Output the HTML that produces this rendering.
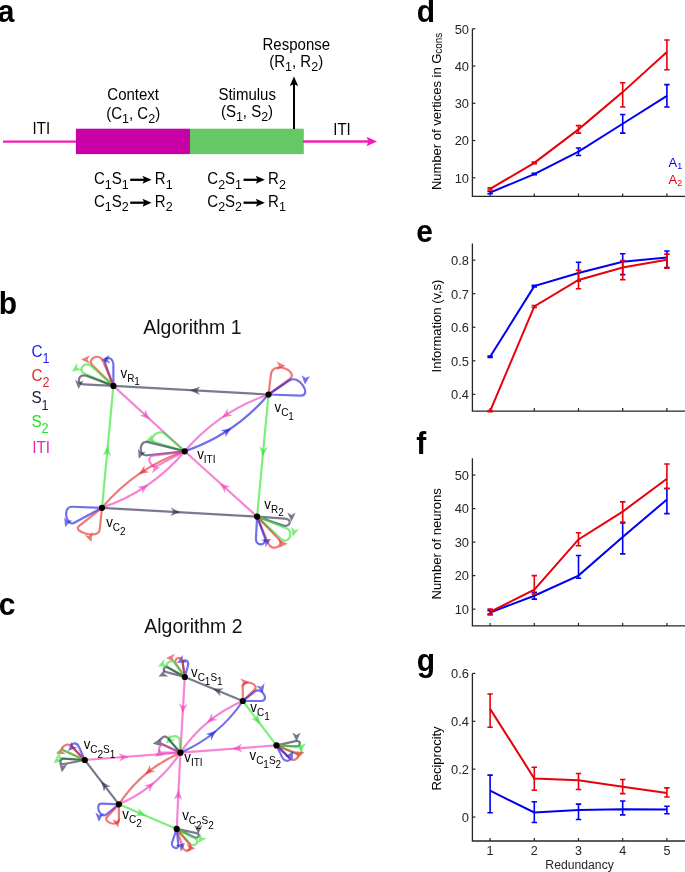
<!DOCTYPE html>
<html><head><meta charset="utf-8"><style>
html,body{margin:0;padding:0;background:#fff;}
body{width:685px;height:872px;overflow:hidden;}
svg{display:block;font-family:"Liberation Sans",sans-serif;filter:blur(0.35px);}
</style></head><body>
<svg width="685" height="872" viewBox="0 0 685 872">
<rect width="685" height="872" fill="#fff"/>
<text transform="translate(-2.2 21.7) scale(1 1.04)" font-size="30" text-anchor="start" fill="#000" font-weight="bold" >a</text>
<text transform="translate(-1.2 314.2) scale(1 1.04)" font-size="30" text-anchor="start" fill="#000" font-weight="bold" >b</text>
<text transform="translate(-1.2 615.3) scale(1 1.04)" font-size="30" text-anchor="start" fill="#000" font-weight="bold" >c</text>
<text transform="translate(416.7 21.9) scale(1 1.04)" font-size="30" text-anchor="start" fill="#000" font-weight="bold" >d</text>
<text transform="translate(416.3 241.6) scale(1 1.04)" font-size="30" text-anchor="start" fill="#000" font-weight="bold" >e</text>
<text transform="translate(416.3 454) scale(1 1.04)" font-size="30" text-anchor="start" fill="#000" font-weight="bold" >f</text>
<text transform="translate(416.7 671.4) scale(1 1.04)" font-size="30" text-anchor="start" fill="#000" font-weight="bold" >g</text>
<line x1="3" y1="141.6" x2="76.5" y2="141.6" stroke="#f41cb8" stroke-width="2.4"/>
<rect x="75.9" y="128.7" width="114.1" height="25.4" fill="#c900a5"/>
<rect x="190" y="128.7" width="113.8" height="25.4" fill="#64c864"/>
<line x1="303" y1="141.5" x2="369" y2="141.5" stroke="#f41cb8" stroke-width="2.4"/>
<path d="M377 141.5 L366.5 136.8 L368.5 141.5 L366.5 146.2 Z" fill="#f41cb8"/>
<line x1="294" y1="129" x2="294" y2="84" stroke="#000" stroke-width="2"/>
<path d="M294 76.4 L289.8 86 L294 84.2 L298.2 86 Z" fill="#000"/>
<text transform="translate(41.3 134) scale(1 1.04)" font-size="15" text-anchor="middle" fill="#000" font-weight="normal" >ITI</text>
<text transform="translate(342 134.5) scale(1 1.04)" font-size="15" text-anchor="middle" fill="#000" font-weight="normal" >ITI</text>
<text transform="translate(133.2 99.7) scale(1 1.04)" font-size="15" text-anchor="middle" fill="#000" font-weight="normal" >Context</text>
<text transform="translate(133.2 118.7) scale(1 1.04)" font-size="15" text-anchor="middle" fill="#000" font-weight="normal" >(C<tspan font-size="12.5" dy="4">1</tspan><tspan dy="-4">, C</tspan><tspan font-size="12.5" dy="4">2</tspan><tspan dy="-4">)</tspan></text>
<text transform="translate(247.2 100) scale(1 1.04)" font-size="15" text-anchor="middle" fill="#000" font-weight="normal" >Stimulus</text>
<text transform="translate(247 117.2) scale(1 1.04)" font-size="15" text-anchor="middle" fill="#000" font-weight="normal" >(S<tspan font-size="12.5" dy="4">1</tspan><tspan dy="-4">, S</tspan><tspan font-size="12.5" dy="4">2</tspan><tspan dy="-4">)</tspan></text>
<text transform="translate(296.3 49.7) scale(1 1.04)" font-size="15" text-anchor="middle" fill="#000" font-weight="normal" >Response</text>
<text transform="translate(296.2 66.5) scale(1 1.04)" font-size="15" text-anchor="middle" fill="#000" font-weight="normal" >(R<tspan font-size="12.5" dy="4">1</tspan><tspan dy="-4">, R</tspan><tspan font-size="12.5" dy="4">2</tspan><tspan dy="-4">)</tspan></text>
<text transform="translate(94 184.4) scale(1 1.04)" font-size="15" text-anchor="start" fill="#000" font-weight="normal" >C<tspan font-size="12.5" dy="4">1</tspan><tspan dy="-4">S</tspan><tspan font-size="12.5" dy="4">1</tspan></text>
<line x1="130.2" y1="179.8" x2="145.2" y2="179.8" stroke="#000" stroke-width="2.3"/>
<path d="M151.6 179.8 L142.4 175.8 L144.4 179.8 L142.4 183.8 Z" fill="#000"/>
<text transform="translate(154.8 184.4) scale(1 1.04)" font-size="15" text-anchor="start" fill="#000" font-weight="normal" >R<tspan font-size="12.5" dy="4">1</tspan></text>
<text transform="translate(94 207.3) scale(1 1.04)" font-size="15" text-anchor="start" fill="#000" font-weight="normal" >C<tspan font-size="12.5" dy="4">1</tspan><tspan dy="-4">S</tspan><tspan font-size="12.5" dy="4">2</tspan></text>
<line x1="130.2" y1="202.7" x2="145.2" y2="202.7" stroke="#000" stroke-width="2.3"/>
<path d="M151.6 202.7 L142.4 198.7 L144.4 202.7 L142.4 206.7 Z" fill="#000"/>
<text transform="translate(154.8 207.3) scale(1 1.04)" font-size="15" text-anchor="start" fill="#000" font-weight="normal" >R<tspan font-size="12.5" dy="4">2</tspan></text>
<text transform="translate(207.3 184.4) scale(1 1.04)" font-size="15" text-anchor="start" fill="#000" font-weight="normal" >C<tspan font-size="12.5" dy="4">2</tspan><tspan dy="-4">S</tspan><tspan font-size="12.5" dy="4">1</tspan></text>
<line x1="243.5" y1="179.8" x2="258.5" y2="179.8" stroke="#000" stroke-width="2.3"/>
<path d="M264.9 179.8 L255.7 175.8 L257.7 179.8 L255.7 183.8 Z" fill="#000"/>
<text transform="translate(268.1 184.4) scale(1 1.04)" font-size="15" text-anchor="start" fill="#000" font-weight="normal" >R<tspan font-size="12.5" dy="4">2</tspan></text>
<text transform="translate(207.3 207.3) scale(1 1.04)" font-size="15" text-anchor="start" fill="#000" font-weight="normal" >C<tspan font-size="12.5" dy="4">2</tspan><tspan dy="-4">S</tspan><tspan font-size="12.5" dy="4">2</tspan></text>
<line x1="243.5" y1="202.7" x2="258.5" y2="202.7" stroke="#000" stroke-width="2.3"/>
<path d="M264.9 202.7 L255.7 198.7 L257.7 202.7 L255.7 206.7 Z" fill="#000"/>
<text transform="translate(268.1 207.3) scale(1 1.04)" font-size="15" text-anchor="start" fill="#000" font-weight="normal" >R<tspan font-size="12.5" dy="4">1</tspan></text>
<text transform="translate(192.4 333.7) scale(1 1.04)" font-size="19.4" text-anchor="middle" fill="#111" font-weight="normal" >Algorithm 1</text>
<text transform="translate(31.4 357.2) scale(1 1.13)" font-size="15.3" text-anchor="start" fill="#2020e8" font-weight="normal" >C<tspan font-size="12.6" dy="5.5">1</tspan></text>
<text transform="translate(31.4 380.6) scale(1 1.13)" font-size="15.3" text-anchor="start" fill="#e02a2a" font-weight="normal" >C<tspan font-size="12.6" dy="5.5">2</tspan></text>
<text transform="translate(31.4 403.3) scale(1 1.13)" font-size="15.3" text-anchor="start" fill="#1c1c36" font-weight="normal" >S<tspan font-size="12.6" dy="5.5">1</tspan></text>
<text transform="translate(31.4 426.7) scale(1 1.13)" font-size="15.3" text-anchor="start" fill="#2ae02a" font-weight="normal" >S<tspan font-size="12.6" dy="5.5">2</tspan></text>
<text transform="translate(32.2 452.8) scale(1 1.13)" font-size="15.3" text-anchor="start" fill="#e02ab4" font-weight="normal" >ITI</text>
<path d="M268.5 394.5 Q190.95 390.2 113.4 385.9" fill="none" stroke="rgb(40,40,75)" stroke-opacity="0.62" stroke-width="2.2"/>
<path d="M189.95 390.14 L200.17 386.5 L197.14 390.54 L199.7 394.89 Z" fill="rgb(40,40,75)" fill-opacity="0.62"/>
<path d="M113.4 385.9 Q149.05 418.6 184.7 451.3" fill="none" stroke="rgb(238,60,188)" stroke-opacity="0.62" stroke-width="2.2"/>
<path d="M149.79 419.28 L139.58 415.61 L144.48 414.41 L145.26 409.42 Z" fill="rgb(238,60,188)" fill-opacity="0.62"/>
<path d="M257.1 516.6 Q220.9 483.95 184.7 451.3" fill="none" stroke="rgb(238,60,188)" stroke-opacity="0.62" stroke-width="2.2"/>
<path d="M220.16 483.28 L230.4 486.86 L225.5 488.1 L224.77 493.1 Z" fill="rgb(238,60,188)" fill-opacity="0.62"/>
<path d="M268.5 394.5 Q262.8 455.55 257.1 516.6" fill="none" stroke="rgb(45,228,45)" stroke-opacity="0.62" stroke-width="2.2"/>
<path d="M262.71 456.55 L259.45 446.2 L263.38 449.38 L267.82 446.98 Z" fill="rgb(45,228,45)" fill-opacity="0.62"/>
<path d="M102 507.8 Q107.7 446.85 113.4 385.9" fill="none" stroke="rgb(45,228,45)" stroke-opacity="0.62" stroke-width="2.2"/>
<path d="M107.79 445.85 L111.04 456.2 L107.12 453.02 L102.68 455.42 Z" fill="rgb(45,228,45)" fill-opacity="0.62"/>
<path d="M102 507.8 Q179.55 512.2 257.1 516.6" fill="none" stroke="rgb(40,40,75)" stroke-opacity="0.62" stroke-width="2.2"/>
<path d="M180.55 512.26 L170.33 515.88 L173.36 511.85 L170.8 507.5 Z" fill="rgb(40,40,75)" fill-opacity="0.62"/>
<path d="M268.5 394.5 Q218.75 411.31 184.7 451.3" fill="none" stroke="rgb(238,60,188)" stroke-opacity="0.62" stroke-width="2.2"/>
<path d="M221.84 417.67 L227.77 408.58 L227.8 413.63 L232.48 415.53 Z" fill="rgb(238,60,188)" fill-opacity="0.62"/>
<path d="M184.7 451.3 Q234.45 434.49 268.5 394.5" fill="none" stroke="rgb(25,25,225)" stroke-opacity="0.62" stroke-width="2.2"/>
<path d="M231.36 428.13 L225.43 437.22 L225.4 432.17 L220.72 430.27 Z" fill="rgb(25,25,225)" fill-opacity="0.62"/>
<path d="M184.7 451.3 Q135.45 467.99 102 507.8" fill="none" stroke="rgb(230,40,40)" stroke-opacity="0.62" stroke-width="2.2"/>
<path d="M138.58 474.33 L144.46 465.23 L144.52 470.27 L149.2 472.16 Z" fill="rgb(230,40,40)" fill-opacity="0.62"/>
<path d="M102 507.8 Q151.25 491.11 184.7 451.3" fill="none" stroke="rgb(238,60,188)" stroke-opacity="0.62" stroke-width="2.2"/>
<path d="M148.12 484.77 L142.24 493.87 L142.18 488.83 L137.5 486.94 Z" fill="rgb(238,60,188)" fill-opacity="0.62"/>
<path d="M113.4 385.9 L113.4 364.4 C113.4 355.9 102.63 356.3 105.53 364.29 Z" fill="none" stroke="rgb(25,25,225)" stroke-opacity="0.62" stroke-width="2.2" stroke-linejoin="round"/>
<path d="M101 360 L109.6 355.03 L107.46 359.44 L110.33 363.4 Z" fill="rgb(25,25,225)" fill-opacity="0.62"/>
<path d="M113.4 385.9 L103.07 360.96 C99.43 352.18 85.94 358.91 92.72 365.57 Z" fill="none" stroke="rgb(230,40,40)" stroke-opacity="0.62" stroke-width="2.2" stroke-linejoin="round"/>
<path d="M81 359.5 L90 355.3 L87.48 359.5 L90 363.7 Z" fill="rgb(230,40,40)" fill-opacity="0.62"/>
<path d="M113.4 385.9 L91.48 366.16 C84.79 360.14 76.58 370.27 84.86 373.79 Z" fill="none" stroke="rgb(45,228,45)" stroke-opacity="0.62" stroke-width="2.2" stroke-linejoin="round"/>
<path d="M72 371.5 L76.96 362.9 L77.31 367.78 L81.78 369.78 Z" fill="rgb(45,228,45)" fill-opacity="0.62"/>
<path d="M113.4 385.9 L86.24 375.74 C78.74 372.94 75.45 383.91 83.44 384.33 Z" fill="none" stroke="rgb(40,40,75)" stroke-opacity="0.62" stroke-width="2.2" stroke-linejoin="round"/>
<path d="M78.5 389 L75.1 379.67 L79.06 382.54 L83.47 380.4 Z" fill="rgb(40,40,75)" fill-opacity="0.62"/>
<path d="M268.5 394.5 L271 374.15 C272.7 360.26 300.46 371.28 289.13 379.51 Z" fill="none" stroke="rgb(230,40,40)" stroke-opacity="0.62" stroke-width="2.2" stroke-linejoin="round"/>
<path d="M285.5 365.8 L276.5 370 L279.02 365.8 L276.5 361.6 Z" fill="rgb(230,40,40)" fill-opacity="0.62"/>
<path d="M268.5 394.5 L289.23 380.52 C299.17 373.81 312.47 396.04 300.48 395.62 Z" fill="none" stroke="rgb(25,25,225)" stroke-opacity="0.62" stroke-width="2.2" stroke-linejoin="round"/>
<path d="M305 384.5 L301.6 375.17 L305.56 378.04 L309.97 375.9 Z" fill="rgb(25,25,225)" fill-opacity="0.62"/>
<path d="M184.7 451.3 L165.23 434.07 C158.49 428.11 146.45 439.61 155.05 442.24 Z" fill="none" stroke="rgb(45,228,45)" stroke-opacity="0.62" stroke-width="2.2" stroke-linejoin="round"/>
<path d="M145.3 441.6 L152.32 434.58 L151.39 439.38 L155.19 442.47 Z" fill="rgb(45,228,45)" fill-opacity="0.62"/>
<path d="M184.7 451.3 L147.83 442.11 C139.1 439.93 137.96 456.21 146.91 455.27 Z" fill="none" stroke="rgb(40,40,75)" stroke-opacity="0.62" stroke-width="2.2" stroke-linejoin="round"/>
<path d="M138.8 458.7 L137.93 448.81 L141.02 452.61 L145.82 451.68 Z" fill="rgb(40,40,75)" fill-opacity="0.62"/>
<path d="M184.7 451.3 L153.01 455.75 C145.09 456.87 151.15 469.14 158.21 465.38 Z" fill="none" stroke="rgb(238,60,188)" stroke-opacity="0.62" stroke-width="2.2" stroke-linejoin="round"/>
<path d="M160 467.5 L151.87 473.2 L153.62 468.63 L150.41 464.93 Z" fill="rgb(238,60,188)" fill-opacity="0.62"/>
<path d="M102 507.8 L72.02 506.75 C62.02 506.4 65.97 527.36 74.76 522.59 Z" fill="none" stroke="rgb(25,25,225)" stroke-opacity="0.62" stroke-width="2.2" stroke-linejoin="round"/>
<path d="M65.1 527.1 L64.23 517.21 L67.32 521.01 L72.12 520.08 Z" fill="rgb(25,25,225)" fill-opacity="0.62"/>
<path d="M102 507.8 L99.7 529.68 C98.66 539.62 71.39 531.97 79.24 525.77 Z" fill="none" stroke="rgb(230,40,40)" stroke-opacity="0.62" stroke-width="2.2" stroke-linejoin="round"/>
<path d="M91.5 542 L84.48 534.98 L89.28 535.91 L92.37 532.11 Z" fill="rgb(230,40,40)" fill-opacity="0.62"/>
<path d="M257.1 516.6 L285.03 518.55 C293.01 519.11 290.19 527.99 282.63 525.39 Z" fill="none" stroke="rgb(40,40,75)" stroke-opacity="0.62" stroke-width="2.2" stroke-linejoin="round"/>
<path d="M291.5 521.5 L287.3 512.5 L291.5 515.02 L295.7 512.5 Z" fill="rgb(40,40,75)" fill-opacity="0.62"/>
<path d="M257.1 516.6 L286.77 528.59 C295.11 531.96 287.82 545.24 281.23 539.11 Z" fill="none" stroke="rgb(45,228,45)" stroke-opacity="0.62" stroke-width="2.2" stroke-linejoin="round"/>
<path d="M292.8 536.5 L291.07 526.72 L294.48 530.24 L299.19 528.89 Z" fill="rgb(45,228,45)" fill-opacity="0.62"/>
<path d="M257.1 516.6 L278.63 538.9 C285.23 545.73 271.83 552.17 268.2 543.39 Z" fill="none" stroke="rgb(230,40,40)" stroke-opacity="0.62" stroke-width="2.2" stroke-linejoin="round"/>
<path d="M287.5 543.8 L278.5 548 L281.02 543.8 L278.5 539.6 Z" fill="rgb(230,40,40)" fill-opacity="0.62"/>
<path d="M257.1 516.6 L264.8 537.74 C267.7 545.73 255.5 547.06 255.95 538.57 Z" fill="none" stroke="rgb(25,25,225)" stroke-opacity="0.62" stroke-width="2.2" stroke-linejoin="round"/>
<path d="M271 539 L265.31 547.14 L265.39 542.24 L261.11 539.86 Z" fill="rgb(25,25,225)" fill-opacity="0.62"/>
<circle cx="113.4" cy="385.9" r="3.1" fill="#000"/>
<circle cx="268.5" cy="394.5" r="3.1" fill="#000"/>
<circle cx="184.7" cy="451.3" r="3.1" fill="#000"/>
<circle cx="102" cy="507.8" r="3.1" fill="#000"/>
<circle cx="257.1" cy="516.6" r="3.1" fill="#000"/>
<text transform="translate(120.5 378.1) scale(1 1.04)" font-size="13.3" text-anchor="start" fill="#000" font-weight="normal" >v<tspan font-size="10" dy="4">R</tspan><tspan font-size="10" dy="2.6">1</tspan></text>
<text transform="translate(274.5 411.5) scale(1 1.04)" font-size="13.3" text-anchor="start" fill="#000" font-weight="normal" >v<tspan font-size="10" dy="4">C</tspan><tspan font-size="10" dy="3.9">1</tspan></text>
<text transform="translate(197.2 458.5) scale(1 1.04)" font-size="13.3" text-anchor="start" fill="#000" font-weight="normal" >v<tspan font-size="10" dy="4">ITI</tspan></text>
<text transform="translate(106.2 526.5) scale(1 1.04)" font-size="13.3" text-anchor="start" fill="#000" font-weight="normal" >v<tspan font-size="10" dy="4">C</tspan><tspan font-size="10" dy="3.9">2</tspan></text>
<text transform="translate(264.3 508.9) scale(1 1.04)" font-size="13.3" text-anchor="start" fill="#000" font-weight="normal" >v<tspan font-size="10" dy="4">R</tspan><tspan font-size="10" dy="2.6">2</tspan></text>
<text transform="translate(193.4 632.6) scale(1 1.04)" font-size="19.4" text-anchor="middle" fill="#111" font-weight="normal" >Algorithm 2</text>
<path d="M242.8 701 Q213.8 689 184.8 677" fill="none" stroke="rgb(40,40,75)" stroke-opacity="0.62" stroke-width="2.2"/>
<path d="M212.88 688.62 L223.72 688.56 L219.53 691.37 L220.51 696.32 Z" fill="rgb(40,40,75)" fill-opacity="0.62"/>
<path d="M184.8 677 Q182.6 714.85 180.4 752.7" fill="none" stroke="rgb(238,60,188)" stroke-opacity="0.62" stroke-width="2.2"/>
<path d="M182.67 713.58 L179.06 703.35 L183.09 706.39 L187.45 703.84 Z" fill="rgb(238,60,188)" fill-opacity="0.62"/>
<path d="M242.8 701 Q259.65 723.2 276.5 745.4" fill="none" stroke="rgb(45,228,45)" stroke-opacity="0.62" stroke-width="2.2"/>
<path d="M260.25 724 L250.86 718.57 L255.9 718.26 L257.55 713.49 Z" fill="rgb(45,228,45)" fill-opacity="0.62"/>
<path d="M276.5 745.4 Q228.45 749.05 180.4 752.7" fill="none" stroke="rgb(238,60,188)" stroke-opacity="0.62" stroke-width="2.2"/>
<path d="M232.26 748.76 L241.91 743.82 L239.44 748.22 L242.55 752.19 Z" fill="rgb(238,60,188)" fill-opacity="0.62"/>
<path d="M242.8 701 Q203.94 717.61 180.4 752.7" fill="none" stroke="rgb(238,60,188)" stroke-opacity="0.62" stroke-width="2.2"/>
<path d="M207 722.87 L212.02 713.25 L212.55 718.27 L217.38 719.72 Z" fill="rgb(238,60,188)" fill-opacity="0.62"/>
<path d="M180.4 752.7 Q219.26 736.09 242.8 701" fill="none" stroke="rgb(25,25,225)" stroke-opacity="0.62" stroke-width="2.2"/>
<path d="M216.2 730.83 L211.18 740.45 L210.65 735.43 L205.82 733.98 Z" fill="rgb(25,25,225)" fill-opacity="0.62"/>
<path d="M118.9 804.3 Q101.85 782.15 84.8 760" fill="none" stroke="rgb(40,40,75)" stroke-opacity="0.62" stroke-width="2.2"/>
<path d="M101.24 781.36 L110.67 786.72 L105.63 787.06 L104.01 791.84 Z" fill="rgb(40,40,75)" fill-opacity="0.62"/>
<path d="M84.8 760 Q132.6 756.35 180.4 752.7" fill="none" stroke="rgb(238,60,188)" stroke-opacity="0.62" stroke-width="2.2"/>
<path d="M128.82 756.64 L119.17 761.59 L121.64 757.19 L118.53 753.21 Z" fill="rgb(238,60,188)" fill-opacity="0.62"/>
<path d="M118.9 804.3 Q147.8 816.6 176.7 828.9" fill="none" stroke="rgb(45,228,45)" stroke-opacity="0.62" stroke-width="2.2"/>
<path d="M145.83 815.76 L134.98 815.71 L139.21 812.94 L138.27 807.98 Z" fill="rgb(45,228,45)" fill-opacity="0.62"/>
<path d="M176.7 828.9 Q178.55 790.8 180.4 752.7" fill="none" stroke="rgb(238,60,188)" stroke-opacity="0.62" stroke-width="2.2"/>
<path d="M178.6 789.8 L182.31 799.99 L178.25 796.99 L173.92 799.59 Z" fill="rgb(238,60,188)" fill-opacity="0.62"/>
<path d="M180.4 752.7 Q141.94 769.31 118.9 804.3" fill="none" stroke="rgb(230,40,40)" stroke-opacity="0.62" stroke-width="2.2"/>
<path d="M145.03 774.55 L149.99 764.9 L150.54 769.92 L155.39 771.34 Z" fill="rgb(230,40,40)" fill-opacity="0.62"/>
<path d="M118.9 804.3 Q157.36 787.69 180.4 752.7" fill="none" stroke="rgb(238,60,188)" stroke-opacity="0.62" stroke-width="2.2"/>
<path d="M154.27 782.45 L149.31 792.1 L148.76 787.08 L143.91 785.66 Z" fill="rgb(238,60,188)" fill-opacity="0.62"/>
<path d="M184.8 677 L188.03 665.44 C189.64 659.66 181.99 658.21 182.88 664.14 Z" fill="none" stroke="rgb(25,25,225)" stroke-opacity="0.62" stroke-width="2.2" stroke-linejoin="round"/>
<path d="M177 663 L182.69 654.86 L182.61 659.76 L186.89 662.14 Z" fill="rgb(25,25,225)" fill-opacity="0.62"/>
<path d="M184.8 677 L182.44 661.18 C181.47 654.75 172.5 658.76 176.13 664.15 Z" fill="none" stroke="rgb(230,40,40)" stroke-opacity="0.62" stroke-width="2.2" stroke-linejoin="round"/>
<path d="M166 658 L175 653.8 L172.48 658 L175 662.2 Z" fill="rgb(230,40,40)" fill-opacity="0.62"/>
<path d="M184.8 677 L174.81 663.25 C171.28 658.39 163.24 664.35 168.41 667.39 Z" fill="none" stroke="rgb(45,228,45)" stroke-opacity="0.62" stroke-width="2.2" stroke-linejoin="round"/>
<path d="M158 666.5 L164.38 658.89 L163.87 663.76 L167.93 666.5 Z" fill="rgb(45,228,45)" fill-opacity="0.62"/>
<path d="M184.8 677 L168.18 667.79 C163.81 665.36 161.62 670.79 166.45 672.08 Z" fill="none" stroke="rgb(40,40,75)" stroke-opacity="0.62" stroke-width="2.2" stroke-linejoin="round"/>
<path d="M158.5 676.6 L164.88 668.99 L164.37 673.86 L168.43 676.6 Z" fill="rgb(40,40,75)" fill-opacity="0.62"/>
<path d="M242.8 701 L242.8 687 C242.8 678.5 260.42 683.98 254.31 689.89 Z" fill="none" stroke="rgb(230,40,40)" stroke-opacity="0.62" stroke-width="2.2" stroke-linejoin="round"/>
<path d="M249.5 682 L240.9 686.97 L243.04 682.56 L240.17 678.6 Z" fill="rgb(230,40,40)" fill-opacity="0.62"/>
<path d="M242.8 701 L255.01 691.46 C261.71 686.22 269.8 701 261.3 701 Z" fill="none" stroke="rgb(25,25,225)" stroke-opacity="0.62" stroke-width="2.2" stroke-linejoin="round"/>
<path d="M262.8 693 L256.41 685.39 L261.12 686.74 L264.53 683.22 Z" fill="rgb(25,25,225)" fill-opacity="0.62"/>
<path d="M276.5 745.4 L295.54 741.18 C301.4 739.88 301.47 746.71 295.47 746.39 Z" fill="none" stroke="rgb(40,40,75)" stroke-opacity="0.62" stroke-width="2.2" stroke-linejoin="round"/>
<path d="M296.5 741.5 L292.3 732.5 L296.5 735.02 L300.7 732.5 Z" fill="rgb(40,40,75)" fill-opacity="0.62"/>
<path d="M276.5 745.4 L297.47 746.5 C303.46 746.81 302.41 756.02 296.85 753.75 Z" fill="none" stroke="rgb(45,228,45)" stroke-opacity="0.62" stroke-width="2.2" stroke-linejoin="round"/>
<path d="M300.5 751.5 L297.93 741.91 L301.63 745.12 L306.2 743.37 Z" fill="rgb(45,228,45)" fill-opacity="0.62"/>
<path d="M276.5 745.4 L295.93 753.37 C301.48 755.65 294.48 762.77 290.17 758.6 Z" fill="none" stroke="rgb(230,40,40)" stroke-opacity="0.62" stroke-width="2.2" stroke-linejoin="round"/>
<path d="M304.4 752 L297.38 759.02 L298.31 754.22 L294.51 751.13 Z" fill="rgb(230,40,40)" fill-opacity="0.62"/>
<path d="M276.5 745.4 L288.73 757.21 C293.04 761.38 284.65 762.56 282.08 757.14 Z" fill="none" stroke="rgb(25,25,225)" stroke-opacity="0.62" stroke-width="2.2" stroke-linejoin="round"/>
<path d="M293.3 751 L292.44 760.89 L290.06 756.61 L285.16 756.69 Z" fill="rgb(25,25,225)" fill-opacity="0.62"/>
<path d="M180.4 752.7 L179.72 739.72 C179.41 733.73 165.97 736.1 169.9 740.62 Z" fill="none" stroke="rgb(45,228,45)" stroke-opacity="0.62" stroke-width="2.2" stroke-linejoin="round"/>
<path d="M166 743.5 L169.39 734.17 L170.58 738.92 L175.33 740.11 Z" fill="rgb(45,228,45)" fill-opacity="0.62"/>
<path d="M180.4 752.7 L167.28 737.61 C164 733.83 156.84 741.71 161.37 743.83 Z" fill="none" stroke="rgb(40,40,75)" stroke-opacity="0.62" stroke-width="2.2" stroke-linejoin="round"/>
<path d="M152.6 743.7 L160.73 738 L158.98 742.57 L162.19 746.27 Z" fill="rgb(40,40,75)" fill-opacity="0.62"/>
<path d="M180.4 752.7 L163.63 744.88 C159.1 742.77 156.9 752.7 161.9 752.7 Z" fill="none" stroke="rgb(238,60,188)" stroke-opacity="0.62" stroke-width="2.2" stroke-linejoin="round"/>
<path d="M155 756.8 L159.96 748.2 L160.31 753.08 L164.78 755.08 Z" fill="rgb(238,60,188)" fill-opacity="0.62"/>
<path d="M84.8 760 L78.9 746.75 C76.46 741.27 68.82 743.46 72.99 747.77 Z" fill="none" stroke="rgb(25,25,225)" stroke-opacity="0.62" stroke-width="2.2" stroke-linejoin="round"/>
<path d="M68 751 L71.39 741.67 L72.58 746.42 L77.33 747.61 Z" fill="rgb(25,25,225)" fill-opacity="0.62"/>
<path d="M84.8 760 L71.6 746.33 C67.43 742.02 58.41 747.97 63.87 750.46 Z" fill="none" stroke="rgb(230,40,40)" stroke-opacity="0.62" stroke-width="2.2" stroke-linejoin="round"/>
<path d="M55.9 753.4 L62.92 746.38 L61.99 751.18 L65.79 754.27 Z" fill="rgb(230,40,40)" fill-opacity="0.62"/>
<path d="M84.8 760 L63.87 750.46 C59.32 748.39 56.85 758.29 61.84 758.6 Z" fill="none" stroke="rgb(45,228,45)" stroke-opacity="0.62" stroke-width="2.2" stroke-linejoin="round"/>
<path d="M53.6 763.3 L57.79 754.3 L58.56 759.13 L63.19 760.73 Z" fill="rgb(45,228,45)" fill-opacity="0.62"/>
<path d="M84.8 760 L63.84 758.72 C58.85 758.41 59.28 764.96 64.19 764.01 Z" fill="none" stroke="rgb(40,40,75)" stroke-opacity="0.62" stroke-width="2.2" stroke-linejoin="round"/>
<path d="M61.8 772.5 L59.23 762.91 L62.93 766.12 L67.5 764.37 Z" fill="rgb(40,40,75)" fill-opacity="0.62"/>
<path d="M118.9 804.3 L101.91 803.71 C93.92 803.43 100.25 819.4 106.47 814.37 Z" fill="none" stroke="rgb(25,25,225)" stroke-opacity="0.62" stroke-width="2.2" stroke-linejoin="round"/>
<path d="M98.8 821.8 L95.4 812.47 L99.36 815.34 L103.77 813.2 Z" fill="rgb(25,25,225)" fill-opacity="0.62"/>
<path d="M118.9 804.3 L118.9 819.3 C118.9 827.3 101.85 822.58 107.31 816.73 Z" fill="none" stroke="rgb(230,40,40)" stroke-opacity="0.62" stroke-width="2.2" stroke-linejoin="round"/>
<path d="M118 827.4 L112.3 819.27 L116.87 821.02 L120.57 817.81 Z" fill="rgb(230,40,40)" fill-opacity="0.62"/>
<path d="M176.7 828.9 L196.26 833.06 C201.15 834.1 198.4 839.16 193.88 837.02 Z" fill="none" stroke="rgb(40,40,75)" stroke-opacity="0.62" stroke-width="2.2" stroke-linejoin="round"/>
<path d="M198.3 834 L194.1 825 L198.3 827.52 L202.5 825 Z" fill="rgb(40,40,75)" fill-opacity="0.62"/>
<path d="M176.7 828.9 L195.41 838.43 C200.76 841.16 194.1 848.22 190.08 843.76 Z" fill="none" stroke="rgb(45,228,45)" stroke-opacity="0.62" stroke-width="2.2" stroke-linejoin="round"/>
<path d="M198.3 843 L200.02 833.22 L202.02 837.69 L206.9 838.04 Z" fill="rgb(45,228,45)" fill-opacity="0.62"/>
<path d="M176.7 828.9 L189.56 844.22 C193.41 848.82 184.73 853.63 182.88 847.92 Z" fill="none" stroke="rgb(230,40,40)" stroke-opacity="0.62" stroke-width="2.2" stroke-linejoin="round"/>
<path d="M195.4 848.3 L186.4 852.5 L188.92 848.3 L186.4 844.1 Z" fill="rgb(230,40,40)" fill-opacity="0.62"/>
<path d="M176.7 828.9 L178.37 844.81 C179 850.78 170.19 847.81 172.14 842.14 Z" fill="none" stroke="rgb(25,25,225)" stroke-opacity="0.62" stroke-width="2.2" stroke-linejoin="round"/>
<path d="M185 843 L180.81 852 L180.04 847.17 L175.41 845.57 Z" fill="rgb(25,25,225)" fill-opacity="0.62"/>
<circle cx="184.8" cy="677" r="3.1" fill="#000"/>
<circle cx="242.8" cy="701" r="3.1" fill="#000"/>
<circle cx="276.5" cy="745.4" r="3.1" fill="#000"/>
<circle cx="180.4" cy="752.7" r="3.1" fill="#000"/>
<circle cx="84.8" cy="760" r="3.1" fill="#000"/>
<circle cx="118.9" cy="804.3" r="3.1" fill="#000"/>
<circle cx="176.7" cy="828.9" r="3.1" fill="#000"/>
<text transform="translate(191 677.2) scale(1 1.04)" font-size="13.3" text-anchor="start" fill="#000" font-weight="normal" >v<tspan font-size="10" dy="4">C</tspan><tspan font-size="10" dy="3.9">1</tspan><tspan font-size="10" dy="-3.9">S</tspan><tspan font-size="10" dy="3.9">1</tspan></text>
<text transform="translate(250.3 711.8) scale(1 1.04)" font-size="13.3" text-anchor="start" fill="#000" font-weight="normal" >v<tspan font-size="10" dy="4">C</tspan><tspan font-size="10" dy="3.9">1</tspan></text>
<text transform="translate(249.5 760) scale(1 1.04)" font-size="13.3" text-anchor="start" fill="#000" font-weight="normal" >v<tspan font-size="10" dy="4">C</tspan><tspan font-size="10" dy="3.9">1</tspan><tspan font-size="10" dy="-3.9">S</tspan><tspan font-size="10" dy="3.9">2</tspan></text>
<text transform="translate(184.3 762.3) scale(1 1.04)" font-size="13.3" text-anchor="start" fill="#000" font-weight="normal" >v<tspan font-size="10" dy="4">ITI</tspan></text>
<text transform="translate(83.7 749.3) scale(1 1.04)" font-size="13.3" text-anchor="start" fill="#000" font-weight="normal" >v<tspan font-size="10" dy="4">C</tspan><tspan font-size="10" dy="3.9">2</tspan><tspan font-size="10" dy="-3.9">S</tspan><tspan font-size="10" dy="3.9">1</tspan></text>
<text transform="translate(122.3 819) scale(1 1.04)" font-size="13.3" text-anchor="start" fill="#000" font-weight="normal" >v<tspan font-size="10" dy="4">C</tspan><tspan font-size="10" dy="3.9">2</tspan></text>
<text transform="translate(182.2 820.3) scale(1 1.04)" font-size="13.3" text-anchor="start" fill="#000" font-weight="normal" >v<tspan font-size="10" dy="4">C</tspan><tspan font-size="10" dy="3.9">2</tspan><tspan font-size="10" dy="-3.9">S</tspan><tspan font-size="10" dy="3.9">2</tspan></text>
<path d="M472.4 28.8 V196.4 H686" fill="none" stroke="#262626" stroke-width="1.3"/>
<line x1="472.4" y1="177.78" x2="475.4" y2="177.78" stroke="#262626" stroke-width="1.2"/>
<text transform="translate(469.0 182.58) scale(1 1.05)" font-size="12.9" text-anchor="end" fill="#262626">10</text>
<line x1="472.4" y1="140.53" x2="475.4" y2="140.53" stroke="#262626" stroke-width="1.2"/>
<text transform="translate(469.0 145.33) scale(1 1.05)" font-size="12.9" text-anchor="end" fill="#262626">20</text>
<line x1="472.4" y1="103.29" x2="475.4" y2="103.29" stroke="#262626" stroke-width="1.2"/>
<text transform="translate(469.0 108.09) scale(1 1.05)" font-size="12.9" text-anchor="end" fill="#262626">30</text>
<line x1="472.4" y1="66.04" x2="475.4" y2="66.04" stroke="#262626" stroke-width="1.2"/>
<text transform="translate(469.0 70.84) scale(1 1.05)" font-size="12.9" text-anchor="end" fill="#262626">40</text>
<line x1="472.4" y1="28.8" x2="475.4" y2="28.8" stroke="#262626" stroke-width="1.2"/>
<text transform="translate(469.0 33.6) scale(1 1.05)" font-size="12.9" text-anchor="end" fill="#262626">50</text>
<line x1="490.1" y1="196.4" x2="490.1" y2="193.4" stroke="#262626" stroke-width="1.2"/>
<line x1="534.3" y1="196.4" x2="534.3" y2="193.4" stroke="#262626" stroke-width="1.2"/>
<line x1="578.5" y1="196.4" x2="578.5" y2="193.4" stroke="#262626" stroke-width="1.2"/>
<line x1="622.7" y1="196.4" x2="622.7" y2="193.4" stroke="#262626" stroke-width="1.2"/>
<line x1="666.9" y1="196.4" x2="666.9" y2="193.4" stroke="#262626" stroke-width="1.2"/>
<text transform="translate(441.4 111.5) rotate(-90) scale(1 1.04)" font-size="13" text-anchor="middle" fill="#000">Number of vertices in G<tspan font-size="9.8" dy="0.8">cons</tspan></text>
<polyline points="490.1,192.68 534.3,174.05 578.5,151.71 622.7,123.77 666.9,95.84" fill="none" stroke="#0000f0" stroke-width="2"/>
<path d="M490.1 191.56 V193.79 M487.4 191.56 H492.8 M487.4 193.79 H492.8" stroke="#0000f0" stroke-width="1.6" fill="none"/>
<path d="M534.3 173.31 V174.8 M531.6 173.31 H537 M531.6 174.8 H537" stroke="#0000f0" stroke-width="1.6" fill="none"/>
<path d="M578.5 147.98 V155.43 M575.8 147.98 H581.2 M575.8 155.43 H581.2" stroke="#0000f0" stroke-width="1.6" fill="none"/>
<path d="M622.7 114.46 V133.08 M620 114.46 H625.4 M620 133.08 H625.4" stroke="#0000f0" stroke-width="1.6" fill="none"/>
<path d="M666.9 84.67 V107.01 M664.2 84.67 H669.6 M664.2 107.01 H669.6" stroke="#0000f0" stroke-width="1.6" fill="none"/>
<polyline points="490.1,188.95 534.3,162.88 578.5,129.36 622.7,92.12 666.9,51.89" fill="none" stroke="#e8000a" stroke-width="2"/>
<path d="M490.1 187.83 V190.07 M487.4 187.83 H492.8 M487.4 190.07 H492.8" stroke="#e8000a" stroke-width="1.6" fill="none"/>
<path d="M534.3 162.14 V163.62 M531.6 162.14 H537 M531.6 163.62 H537" stroke="#e8000a" stroke-width="1.6" fill="none"/>
<path d="M578.5 125.64 V133.08 M575.8 125.64 H581.2 M575.8 133.08 H581.2" stroke="#e8000a" stroke-width="1.6" fill="none"/>
<path d="M622.7 82.8 V107.01 M620 82.8 H625.4 M620 107.01 H625.4" stroke="#e8000a" stroke-width="1.6" fill="none"/>
<path d="M666.9 39.97 V69.77 M664.2 39.97 H669.6 M664.2 69.77 H669.6" stroke="#e8000a" stroke-width="1.6" fill="none"/>
<text transform="translate(668.5 166.7) scale(1 1.04)" font-size="13" text-anchor="start" fill="#0000f0" font-weight="normal" >A<tspan font-size="9" dy="2">1</tspan></text>
<text transform="translate(668.5 184) scale(1 1.04)" font-size="13" text-anchor="start" fill="#e8000a" font-weight="normal" >A<tspan font-size="9" dy="2">2</tspan></text>
<path d="M472.4 243.4 V411.1 H686" fill="none" stroke="#262626" stroke-width="1.3"/>
<line x1="472.4" y1="394.33" x2="475.4" y2="394.33" stroke="#262626" stroke-width="1.2"/>
<text transform="translate(469.0 399.13) scale(1 1.05)" font-size="12.9" text-anchor="end" fill="#262626">0.4</text>
<line x1="472.4" y1="360.79" x2="475.4" y2="360.79" stroke="#262626" stroke-width="1.2"/>
<text transform="translate(469.0 365.59) scale(1 1.05)" font-size="12.9" text-anchor="end" fill="#262626">0.5</text>
<line x1="472.4" y1="327.25" x2="475.4" y2="327.25" stroke="#262626" stroke-width="1.2"/>
<text transform="translate(469.0 332.05) scale(1 1.05)" font-size="12.9" text-anchor="end" fill="#262626">0.6</text>
<line x1="472.4" y1="293.71" x2="475.4" y2="293.71" stroke="#262626" stroke-width="1.2"/>
<text transform="translate(469.0 298.51) scale(1 1.05)" font-size="12.9" text-anchor="end" fill="#262626">0.7</text>
<line x1="472.4" y1="260.17" x2="475.4" y2="260.17" stroke="#262626" stroke-width="1.2"/>
<text transform="translate(469.0 264.97) scale(1 1.05)" font-size="12.9" text-anchor="end" fill="#262626">0.8</text>
<line x1="490.1" y1="411.1" x2="490.1" y2="408.1" stroke="#262626" stroke-width="1.2"/>
<line x1="534.3" y1="411.1" x2="534.3" y2="408.1" stroke="#262626" stroke-width="1.2"/>
<line x1="578.5" y1="411.1" x2="578.5" y2="408.1" stroke="#262626" stroke-width="1.2"/>
<line x1="622.7" y1="411.1" x2="622.7" y2="408.1" stroke="#262626" stroke-width="1.2"/>
<line x1="666.9" y1="411.1" x2="666.9" y2="408.1" stroke="#262626" stroke-width="1.2"/>
<text transform="translate(441.4 326) rotate(-90) scale(1 1.04)" font-size="13" text-anchor="middle" fill="#000">Information (v,s)</text>
<polyline points="490.1,356.77 534.3,286.16 578.5,272.92 622.7,261.85 666.9,257.49" fill="none" stroke="#0000f0" stroke-width="2"/>
<path d="M490.1 356.09 V357.44 M487.4 356.09 H492.8 M487.4 357.44 H492.8" stroke="#0000f0" stroke-width="1.6" fill="none"/>
<path d="M534.3 285.33 V287 M531.6 285.33 H537 M531.6 287 H537" stroke="#0000f0" stroke-width="1.6" fill="none"/>
<path d="M578.5 262.18 V280.96 M575.8 262.18 H581.2 M575.8 280.96 H581.2" stroke="#0000f0" stroke-width="1.6" fill="none"/>
<path d="M622.7 253.8 V274.59 M620 253.8 H625.4 M620 274.59 H625.4" stroke="#0000f0" stroke-width="1.6" fill="none"/>
<path d="M666.9 250.95 V267.55 M664.2 250.95 H669.6 M664.2 267.55 H669.6" stroke="#0000f0" stroke-width="1.6" fill="none"/>
<polyline points="490.1,411.1 534.3,306.46 578.5,279.96 622.7,267.55 666.9,259.83" fill="none" stroke="#e8000a" stroke-width="2"/>
<path d="M490.1 410.43 V411.77 M487.4 410.43 H492.8 M487.4 411.77 H492.8" stroke="#e8000a" stroke-width="1.6" fill="none"/>
<path d="M534.3 305.45 V307.46 M531.6 305.45 H537 M531.6 307.46 H537" stroke="#e8000a" stroke-width="1.6" fill="none"/>
<path d="M578.5 270.23 V288.68 M575.8 270.23 H581.2 M575.8 288.68 H581.2" stroke="#e8000a" stroke-width="1.6" fill="none"/>
<path d="M622.7 260.67 V279.62 M620 260.67 H625.4 M620 279.62 H625.4" stroke="#e8000a" stroke-width="1.6" fill="none"/>
<path d="M666.9 254.13 V268.22 M664.2 254.13 H669.6 M664.2 268.22 H669.6" stroke="#e8000a" stroke-width="1.6" fill="none"/>
<path d="M472.4 458.3 V625.9 H686" fill="none" stroke="#262626" stroke-width="1.3"/>
<line x1="472.4" y1="609.14" x2="475.4" y2="609.14" stroke="#262626" stroke-width="1.2"/>
<text transform="translate(469.0 613.94) scale(1 1.05)" font-size="12.9" text-anchor="end" fill="#262626">10</text>
<line x1="472.4" y1="575.62" x2="475.4" y2="575.62" stroke="#262626" stroke-width="1.2"/>
<text transform="translate(469.0 580.42) scale(1 1.05)" font-size="12.9" text-anchor="end" fill="#262626">20</text>
<line x1="472.4" y1="542.1" x2="475.4" y2="542.1" stroke="#262626" stroke-width="1.2"/>
<text transform="translate(469.0 546.9) scale(1 1.05)" font-size="12.9" text-anchor="end" fill="#262626">30</text>
<line x1="472.4" y1="508.58" x2="475.4" y2="508.58" stroke="#262626" stroke-width="1.2"/>
<text transform="translate(469.0 513.38) scale(1 1.05)" font-size="12.9" text-anchor="end" fill="#262626">40</text>
<line x1="472.4" y1="475.06" x2="475.4" y2="475.06" stroke="#262626" stroke-width="1.2"/>
<text transform="translate(469.0 479.86) scale(1 1.05)" font-size="12.9" text-anchor="end" fill="#262626">50</text>
<line x1="490.1" y1="625.9" x2="490.1" y2="622.9" stroke="#262626" stroke-width="1.2"/>
<line x1="534.3" y1="625.9" x2="534.3" y2="622.9" stroke="#262626" stroke-width="1.2"/>
<line x1="578.5" y1="625.9" x2="578.5" y2="622.9" stroke="#262626" stroke-width="1.2"/>
<line x1="622.7" y1="625.9" x2="622.7" y2="622.9" stroke="#262626" stroke-width="1.2"/>
<line x1="666.9" y1="625.9" x2="666.9" y2="622.9" stroke="#262626" stroke-width="1.2"/>
<text transform="translate(441.4 543.9) rotate(-90) scale(1 1.04)" font-size="13" text-anchor="middle" fill="#000">Number of neurons</text>
<polyline points="490.1,612.49 534.3,595.73 578.5,575.62 622.7,537.07 666.9,499.53" fill="none" stroke="#0000f0" stroke-width="2"/>
<path d="M490.1 610.82 V614.17 M487.4 610.82 H492.8 M487.4 614.17 H492.8" stroke="#0000f0" stroke-width="1.6" fill="none"/>
<path d="M534.3 592.38 V599.08 M531.6 592.38 H537 M531.6 599.08 H537" stroke="#0000f0" stroke-width="1.6" fill="none"/>
<path d="M578.5 555.51 V578.3 M575.8 555.51 H581.2 M575.8 578.3 H581.2" stroke="#0000f0" stroke-width="1.6" fill="none"/>
<path d="M622.7 522.99 V553.83 M620 522.99 H625.4 M620 553.83 H625.4" stroke="#0000f0" stroke-width="1.6" fill="none"/>
<path d="M666.9 488.47 V513.61 M664.2 488.47 H669.6 M664.2 513.61 H669.6" stroke="#0000f0" stroke-width="1.6" fill="none"/>
<polyline points="490.1,611.82 534.3,589.7 578.5,539.42 622.7,511.6 666.9,478.75" fill="none" stroke="#e8000a" stroke-width="2"/>
<path d="M490.1 609.14 V614.84 M487.4 609.14 H492.8 M487.4 614.84 H492.8" stroke="#e8000a" stroke-width="1.6" fill="none"/>
<path d="M534.3 575.62 V594.06 M531.6 575.62 H537 M531.6 594.06 H537" stroke="#e8000a" stroke-width="1.6" fill="none"/>
<path d="M578.5 532.71 V545.79 M575.8 532.71 H581.2 M575.8 545.79 H581.2" stroke="#e8000a" stroke-width="1.6" fill="none"/>
<path d="M622.7 501.88 V521.99 M620 501.88 H625.4 M620 521.99 H625.4" stroke="#e8000a" stroke-width="1.6" fill="none"/>
<path d="M666.9 464 V488.47 M664.2 464 H669.6 M664.2 488.47 H669.6" stroke="#e8000a" stroke-width="1.6" fill="none"/>
<path d="M472.4 673.4 V841 H686" fill="none" stroke="#262626" stroke-width="1.3"/>
<line x1="472.4" y1="817.06" x2="475.4" y2="817.06" stroke="#262626" stroke-width="1.2"/>
<text transform="translate(469.0 821.86) scale(1 1.05)" font-size="12.9" text-anchor="end" fill="#262626">0</text>
<line x1="472.4" y1="769.17" x2="475.4" y2="769.17" stroke="#262626" stroke-width="1.2"/>
<text transform="translate(469.0 773.97) scale(1 1.05)" font-size="12.9" text-anchor="end" fill="#262626">0.2</text>
<line x1="472.4" y1="721.29" x2="475.4" y2="721.29" stroke="#262626" stroke-width="1.2"/>
<text transform="translate(469.0 726.09) scale(1 1.05)" font-size="12.9" text-anchor="end" fill="#262626">0.4</text>
<line x1="472.4" y1="673.4" x2="475.4" y2="673.4" stroke="#262626" stroke-width="1.2"/>
<text transform="translate(469.0 678.2) scale(1 1.05)" font-size="12.9" text-anchor="end" fill="#262626">0.6</text>
<line x1="490.1" y1="841" x2="490.1" y2="838" stroke="#262626" stroke-width="1.2"/>
<text transform="translate(490.1 855.3) scale(1 1.05)" font-size="12.6" text-anchor="middle" fill="#262626">1</text>
<line x1="534.3" y1="841" x2="534.3" y2="838" stroke="#262626" stroke-width="1.2"/>
<text transform="translate(534.3 855.3) scale(1 1.05)" font-size="12.6" text-anchor="middle" fill="#262626">2</text>
<line x1="578.5" y1="841" x2="578.5" y2="838" stroke="#262626" stroke-width="1.2"/>
<text transform="translate(578.5 855.3) scale(1 1.05)" font-size="12.6" text-anchor="middle" fill="#262626">3</text>
<line x1="622.7" y1="841" x2="622.7" y2="838" stroke="#262626" stroke-width="1.2"/>
<text transform="translate(622.7 855.3) scale(1 1.05)" font-size="12.6" text-anchor="middle" fill="#262626">4</text>
<line x1="666.9" y1="841" x2="666.9" y2="838" stroke="#262626" stroke-width="1.2"/>
<text transform="translate(666.9 855.3) scale(1 1.05)" font-size="12.6" text-anchor="middle" fill="#262626">5</text>
<text transform="translate(441.4 758.5) rotate(-90) scale(1 1.04)" font-size="13" text-anchor="middle" fill="#000">Reciprocity</text>
<polyline points="490.1,790.72 534.3,812.51 578.5,810.11 622.7,809.16 666.9,809.4" fill="none" stroke="#0000f0" stroke-width="2"/>
<path d="M490.1 775.16 V812.75 M487.4 775.16 H492.8 M487.4 812.75 H492.8" stroke="#0000f0" stroke-width="1.6" fill="none"/>
<path d="M534.3 801.73 V822.56 M531.6 801.73 H537 M531.6 822.56 H537" stroke="#0000f0" stroke-width="1.6" fill="none"/>
<path d="M578.5 804.13 V819.45 M575.8 804.13 H581.2 M575.8 819.45 H581.2" stroke="#0000f0" stroke-width="1.6" fill="none"/>
<path d="M622.7 801.02 V814.9 M620 801.02 H625.4 M620 814.9 H625.4" stroke="#0000f0" stroke-width="1.6" fill="none"/>
<path d="M666.9 806.28 V813.71 M664.2 806.28 H669.6 M664.2 813.71 H669.6" stroke="#0000f0" stroke-width="1.6" fill="none"/>
<polyline points="490.1,708.84 534.3,778.51 578.5,780.19 622.7,786.65 666.9,793.11" fill="none" stroke="#e8000a" stroke-width="2"/>
<path d="M490.1 693.99 V727.27 M487.4 693.99 H492.8 M487.4 727.27 H492.8" stroke="#e8000a" stroke-width="1.6" fill="none"/>
<path d="M534.3 767.26 V790.24 M531.6 767.26 H537 M531.6 790.24 H537" stroke="#e8000a" stroke-width="1.6" fill="none"/>
<path d="M578.5 773.48 V789.52 M575.8 773.48 H581.2 M575.8 789.52 H581.2" stroke="#e8000a" stroke-width="1.6" fill="none"/>
<path d="M622.7 779.47 V793.59 M620 779.47 H625.4 M620 793.59 H625.4" stroke="#e8000a" stroke-width="1.6" fill="none"/>
<path d="M666.9 787.85 V796.95 M664.2 787.85 H669.6 M664.2 796.95 H669.6" stroke="#e8000a" stroke-width="1.6" fill="none"/>
<text transform="translate(579.6 869.2) scale(1 1.04)" font-size="12.2" text-anchor="middle" fill="#262626" font-weight="normal" >Redundancy</text>
</svg>
</body></html>
